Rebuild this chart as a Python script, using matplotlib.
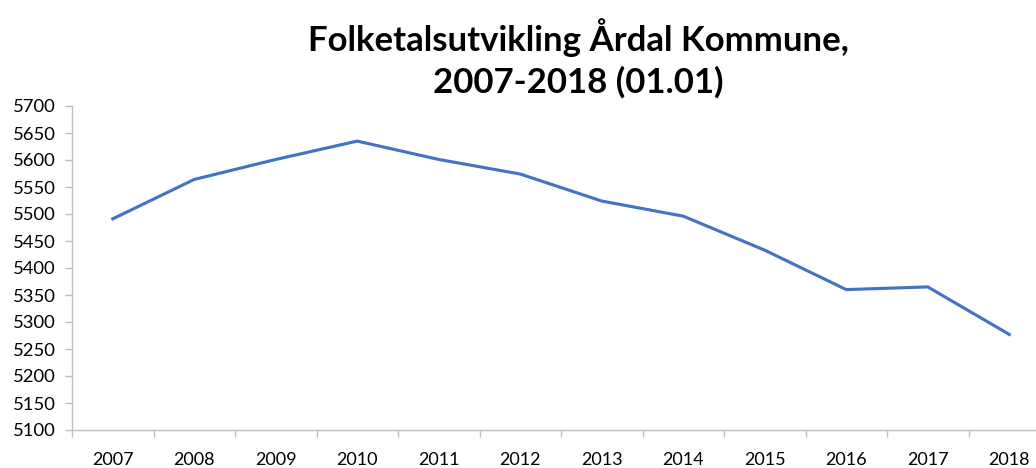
import matplotlib
matplotlib.use("Agg")
import matplotlib.pyplot as plt
from matplotlib.ticker import FixedLocator

years = ["2007", "2008", "2009", "2010", "2011", "2012", "2013", "2014", "2015", "2016", "2017", "2018"]
population = [5491, 5564, 5601, 5635, 5601, 5574, 5524, 5496, 5433, 5360, 5365, 5277]
yticks = list(range(5100, 5701, 50))
title_lines = ["Folketalsutvikling Årdal Kommune,", "2007-2018 (01.01)"]

plt.rcParams['font.family'] = ['Lato', 'DejaVu Sans']

W, H = 1036, 468
fig = plt.figure(figsize=(W / 100, H / 100), dpi=100)
left, right, top, bottom = 72, 1036, 106, 430
ax = fig.add_axes([left / W, (H - bottom) / H, (right - left) / W, (bottom - top) / H])

x = list(range(len(years)))
ax.plot(x, population, color="#4472C4", linewidth=2.25, solid_joinstyle="miter")

px_per_cat = 81.5
ax.set_xlim(-0.5, -0.5 + (right - left) / px_per_cat)
ax.set_ylim(5100, 5700)

ax.set_yticks(yticks)
ax.set_yticklabels([str(v) for v in yticks])
ax.set_xticks(x)
ax.set_xticklabels(years)
ax.xaxis.set_minor_locator(FixedLocator([i - 0.5 for i in range(len(years) + 1)]))

ax.tick_params(axis="x", which="major", length=0, pad=16, labelsize=13, colors="#000000")
ax.tick_params(axis="x", which="minor", length=5, width=1, color="#BFBFBF", direction="out")
ax.tick_params(axis="y", which="major", length=5, width=1, color="#BFBFBF", pad=6.5, labelsize=13.3)

for s in ["top", "right"]:
    ax.spines[s].set_visible(False)
for s in ["left", "bottom"]:
    ax.spines[s].set_color("#BFBFBF")
    ax.spines[s].set_linewidth(1)

baselines = [51, 93]
for line, yb in zip(title_lines, baselines):
    fig.text(578 / W, 1 - yb / H, line, ha="center", va="baseline", fontsize=25,
             fontweight="bold", color="#000000")

fig.savefig("out.png", dpi=100)
